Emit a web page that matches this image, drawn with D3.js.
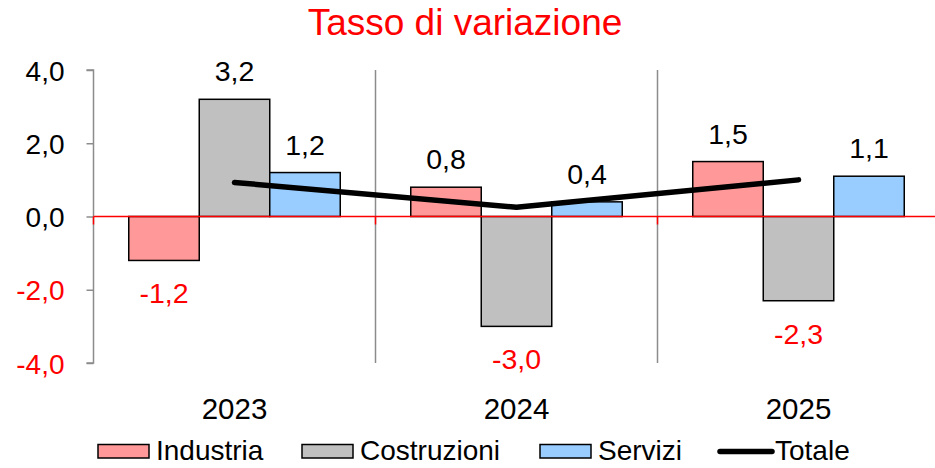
<!DOCTYPE html>
<html><head><meta charset="utf-8">
<script src="https://cdn.jsdelivr.net/npm/d3@7"></script>
<style>body{margin:0;background:#fff}svg{display:block;font-family:"Liberation Sans",Arial,sans-serif}</style>
</head><body><svg id="c" width="935" height="468"></svg>
<script>
const categories = ["2023","2024","2025"];
const industria = [-1.2, 0.8, 1.5];
const costruzioni = [3.2, -3.0, -2.3];
const servizi = [1.2, 0.4, 1.1];
const totale = [0.93, 0.25, 1.0];
const yTicks = [-4, -2, 0, 2, 4];
const seriesNames = ["Industria","Costruzioni","Servizi"];
const seriesColors = ["#FF9999","#C0C0C0","#99CCFF"];
const seriesData = [industria, costruzioni, servizi];

const svg = d3.select("#c");
const x = d3.scaleBand().domain(categories).range([93.5, 939.5]).padding(0);
const y = d3.scaleLinear().domain([-4, 4]).range([363, 70]);
const bw = x.bandwidth();
const barW = bw * 0.25;
const fmt = v => d3.format(".1f")(v).replace(".", ",").replace("−","-");

// title
svg.append("text").attr("x", 465).attr("y", 35).attr("text-anchor","middle")
  .attr("font-size", 37).attr("fill", "#FF0000").text("Tasso di variazione");

// separators
categories.slice(1).forEach(c => {
  svg.append("line").attr("x1", x(c)).attr("x2", x(c)).attr("y1", y(4)).attr("y2", y(-4))
    .attr("stroke", "#8c8c8c").attr("stroke-width", 1.5);
});

// y axis
const yAxis = d3.axisLeft(y).tickValues(yTicks).tickSize(7).tickPadding(0).tickFormat(fmt);
const ga = svg.append("g").attr("transform", `translate(${x.range()[0]},0)`).call(yAxis);
ga.select(".domain").attr("stroke", "#8c8c8c").attr("stroke-width", 1.5).attr("d", `M-7,${y(4)}H0V${y(-4)}H-7`);
ga.selectAll(".tick line").attr("stroke", "#8c8c8c").attr("stroke-width", 1.5);
ga.selectAll(".tick text").attr("font-size", 28).attr("font-family", "Liberation Sans, Arial, sans-serif")
  .attr("x", -29).attr("dy", "0.36em")
  .attr("fill", d => d < 0 ? "#FF0000" : "#000");

// bars
seriesData.forEach((arr, si) => {
  const g = svg.append("g");
  arr.forEach((v, i) => {
    const bx = x(categories[i]) + bw * 0.125 + si * barW;
    g.append("rect").attr("x", bx).attr("width", barW)
      .attr("y", Math.min(y(v), y(0))).attr("height", Math.abs(y(v) - y(0)))
      .attr("fill", seriesColors[si]).attr("stroke", "#000").attr("stroke-width", 1.5);
    g.append("text").attr("x", bx + barW / 2)
      .attr("y", v >= 0 ? y(v) - 18 : y(v) + 43)
      .attr("text-anchor", "middle").attr("font-size", 28.5)
      .attr("fill", v >= 0 ? "#000" : "#FF0000").text(fmt(v));
  });
});

// zero line
svg.append("line").attr("x1", x.range()[0]).attr("x2", 935).attr("y1", y(0)).attr("y2", y(0))
  .attr("stroke", "#FF0000").attr("stroke-width", 1.5);
categories.forEach(c => {
  svg.append("line").attr("x1", x(c)).attr("x2", x(c)).attr("y1", y(0)).attr("y2", y(0) + 8)
    .attr("stroke", "#FF0000").attr("stroke-width", 1.5);
});

// totale line
const line = d3.line().x((d, i) => x(categories[i]) + bw / 2).y(d => y(d));
svg.append("path").datum(totale).attr("d", line).attr("fill", "none")
  .attr("stroke", "#000").attr("stroke-width", 5.5).attr("stroke-linecap", "round").attr("stroke-linejoin", "round");

// category labels
categories.forEach(c => {
  svg.append("text").attr("x", x(c) + bw / 2).attr("y", 419).attr("text-anchor", "middle")
    .attr("font-size", 29.5).text(c);
});

// legend
const legItems = [
  {name: "Industria", type: "rect", color: seriesColors[0], x: 98},
  {name: "Costruzioni", type: "rect", color: seriesColors[1], x: 302},
  {name: "Servizi", type: "rect", color: seriesColors[2], x: 540},
  {name: "Totale", type: "line", color: "#000", x: 717}
];
legItems.forEach(it => {
  if (it.type === "rect") {
    svg.append("rect").attr("x", it.x).attr("y", 444.5).attr("width", 51).attr("height", 13.5)
      .attr("fill", it.color).attr("stroke", "#000").attr("stroke-width", 1.5);
  } else {
    svg.append("line").attr("x1", it.x + 3).attr("x2", it.x + 55).attr("y1", 451.5).attr("y2", 451.5)
      .attr("stroke", "#000").attr("stroke-width", 5.5).attr("stroke-linecap", "round");
  }
  svg.append("text").attr("x", it.x + 58).attr("y", 459.5).attr("font-size", 28).text(it.name);
});
</script></body></html>
